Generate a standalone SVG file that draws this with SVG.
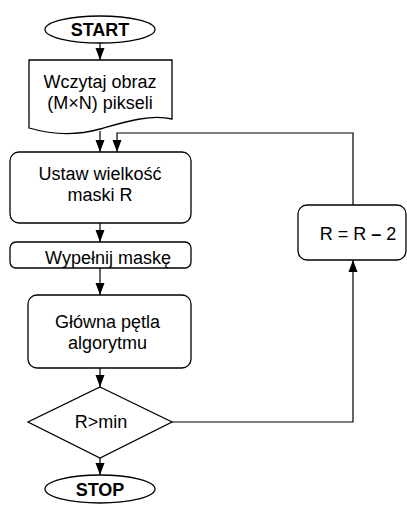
<svg xmlns="http://www.w3.org/2000/svg" width="407" height="508" viewBox="0 0 407 508">
<defs>
<marker id="ah" viewBox="0 0 12 10" refX="12" refY="5" markerWidth="12" markerHeight="10" markerUnits="userSpaceOnUse" orient="auto">
<path d="M0,0.5 L12,5 L0,9.5 Z" fill="#000"/>
</marker>
<style>
.s{fill:#fff;stroke:#000;stroke-width:1.3}
.t{font-family:"Liberation Sans",Arial,sans-serif;font-size:18px;fill:#000;text-anchor:middle}
.b{font-weight:bold}
.c{fill:none;stroke:#000;stroke-width:1.2}
</style>
</defs>
<rect width="407" height="508" fill="#fff"/>
<g id="connectors">
<path class="c" d="M100,43 V60" marker-end="url(#ah)"/>
<path class="c" d="M100,131 V152" marker-end="url(#ah)"/>
<path class="c" d="M353,205 V133 H117 V152" marker-end="url(#ah)"/>
<path class="c" d="M100,223 V242" marker-end="url(#ah)"/>
<path class="c" d="M100,268 V295" marker-end="url(#ah)"/>
<path class="c" d="M100,368 V387" marker-end="url(#ah)"/>
<path class="c" d="M100,458 V475" marker-end="url(#ah)"/>
<path class="c" d="M172,422 H353 V260" marker-end="url(#ah)"/>
</g>
<g id="start">
<ellipse class="s" cx="100" cy="29.5" rx="55" ry="13.5"/>
<text class="t b" x="100" y="35.5">START</text>
</g>
<g id="read">
<path class="s" d="M29,60 H172 V119 C150,114 125,122 100,129 C75,136 50,134 29,128 Z"/>
<text class="t" x="100" y="88">Wczytaj obraz</text>
<text class="t" x="100" y="109">(M×N) pikseli</text>
</g>
<g id="setmask">
<rect class="s" x="10" y="152" width="181" height="71" rx="9"/>
<text class="t" x="100" y="180">Ustaw wielkość</text>
<text class="t" x="100" y="201">maski R</text>
</g>
<g id="fillmask">
<rect class="s" x="10" y="242" width="181" height="26" rx="6"/>
<text class="t" x="108" y="264">Wypełnij maskę</text>
</g>
<g id="mainloop">
<rect class="s" x="28" y="295" width="163" height="73" rx="9"/>
<text class="t" x="107.5" y="328">Główna pętla</text>
<text class="t" x="107.5" y="349">algorytmu</text>
</g>
<g id="decision">
<path class="s" d="M100,387 L172,422 L100,458 L28,422 Z"/>
<text class="t" x="101" y="428">R&gt;min</text>
</g>
<g id="decrement">
<rect class="s" x="298" y="205" width="108" height="55" rx="9"/>
<text class="t" x="358" y="240">R = R <tspan font-weight="bold">–</tspan> 2</text>
</g>
<g id="stop">
<ellipse class="s" cx="100" cy="489" rx="55" ry="14"/>
<text class="t b" x="100" y="495.5">STOP</text>
</g>
</svg>
